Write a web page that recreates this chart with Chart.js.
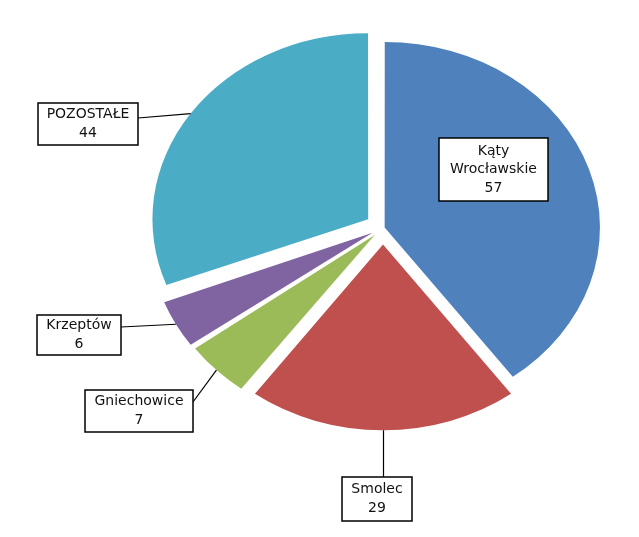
<!DOCTYPE html>
<html>
<head>
<meta charset="utf-8">
<script src="https://cdn.jsdelivr.net/npm/chart.js@4.4.1/dist/chart.umd.min.js"></script>
<style>
  html, body { margin: 0; padding: 0; background: #fff; }
  #wrap { width: 639px; height: 537px; }
</style>
</head>
<body>
<div id="wrap"><canvas id="chart" width="639" height="537"></canvas></div>
<script>
const categories = [['Kąty', 'Wrocławskie'], 'Smolec', 'Gniechowice', 'Krzeptów', 'POZOSTAŁE']
const values = [57, 29, 7, 6, 44]
const colors = ['#4F81BD', '#C0504D', '#9BBB59', '#8064A2', '#4BACC6']
const explode = [6, 66, 40, 41, 62]

// the picture is wider than tall, so the pie gets drawn as an ellipse
const STRETCH = 1.16

// label boxes, plus the point where the leader line leaves the box
const boxes = [
  { x: 439, y: 138, w: 109, h: 63 },
  { x: 342, y: 477, w: 70, h: 44, lx: 383.5, ly: 477 },
  { x: 85, y: 390, w: 108, h: 42, lx: 193, ly: 402 },
  { x: 37, y: 315, w: 84, h: 40, lx: 121, ly: 327 },
  { x: 38, y: 103, w: 100, h: 42, lx: 138, ly: 118 }
]

function outerPoint(arc) {
  const mid = (arc.startAngle + arc.endAngle) / 2
  const circ = arc.endAngle - arc.startAngle
  const off = (arc.options.offset || 0) / 4
  const shift = off * (2 - Math.sin(Math.min(Math.PI, circ)))
  const r = arc.outerRadius + shift
  return { x: arc.x + Math.cos(mid) * r * STRETCH, y: arc.y + Math.sin(mid) * r }
}

const stretchPie = {
  id: 'stretchPie',
  beforeDatasetsDraw(chart) {
    const cx = chart.getDatasetMeta(0).data[0].x
    const ctx = chart.ctx
    ctx.save()
    ctx.translate(cx, 0)
    ctx.scale(STRETCH, 1)
    ctx.translate(-cx, 0)
  },
  afterDatasetsDraw(chart) {
    chart.ctx.restore()
  }
}

const boxLabels = {
  id: 'boxLabels',
  afterDraw(chart) {
    const ctx = chart.ctx
    const arcs = chart.getDatasetMeta(0).data
    ctx.save()
    arcs.forEach((arc, i) => {
      const b = boxes[i]
      if (b.lx !== undefined) {
        const p = outerPoint(arc)
        if (i === 1) p.x = b.lx
        ctx.beginPath()
        ctx.moveTo(p.x, p.y)
        ctx.lineTo(b.lx, b.ly)
        ctx.strokeStyle = '#000'
        ctx.lineWidth = 1.2
        ctx.stroke()
      }
      ctx.fillStyle = '#fff'
      ctx.fillRect(b.x, b.y, b.w, b.h)
      ctx.strokeStyle = '#000'
      ctx.lineWidth = 1.5
      ctx.strokeRect(b.x, b.y, b.w, b.h)

      const cat = categories[i]
      const lines = (Array.isArray(cat) ? cat.slice() : [cat]).concat(String(values[i]))
      const lh = 18.5
      const top = b.y + b.h / 2 - (lines.length - 1) * lh / 2
      ctx.fillStyle = '#111'
      ctx.font = '14px "DejaVu Sans"'
      ctx.textAlign = 'center'
      ctx.textBaseline = 'middle'
      lines.forEach((t, k) => ctx.fillText(t, b.x + b.w / 2, top + k * lh))
    })
    ctx.restore()
  }
}

new Chart(document.getElementById('chart'), {
  type: 'pie',
  data: {
    labels: categories,
    datasets: [{
      data: values,
      backgroundColor: colors,
      borderWidth: 0,
      offset: explode,
      clip: false
    }]
  },
  options: {
    responsive: false,
    animation: false,
    radius: 185,
    layout: { padding: { left: 140, right: 13, top: 8, bottom: 89 } },
    plugins: {
      legend: { display: false },
      tooltip: { enabled: false }
    }
  },
  plugins: [stretchPie, boxLabels]
})
</script>
</body>
</html>
